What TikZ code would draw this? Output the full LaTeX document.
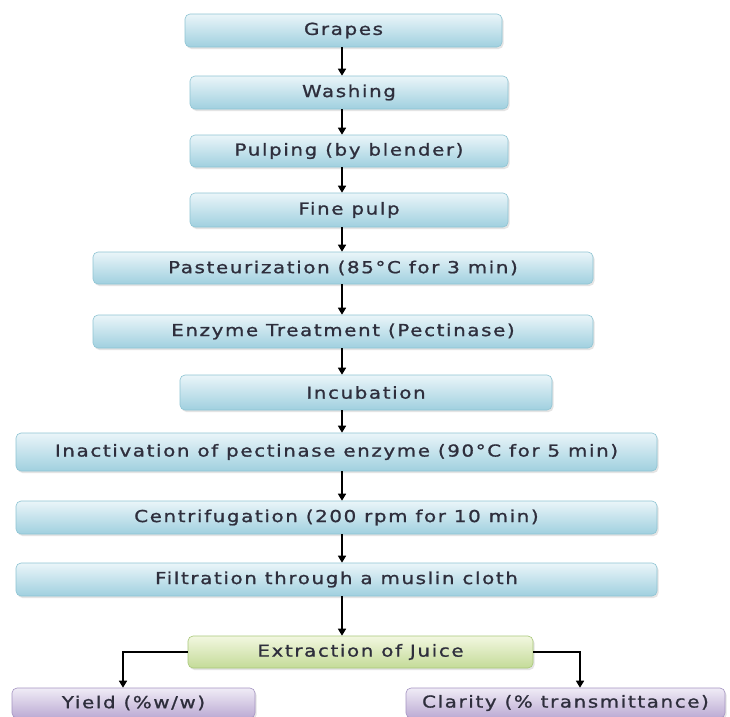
\documentclass[tikz,border=0pt]{standalone}
\usepackage{fontspec}
\setmainfont{DejaVu Sans}[LetterSpace=10, FakeBold=1.1, FakeStretch=1.2]
\usetikzlibrary{arrows.meta,shadows}
\definecolor{txt}{HTML}{2E2E3C}
\definecolor{btop}{HTML}{EAF5F9}
\definecolor{bbot}{HTML}{A0D0DF}
\definecolor{bdraw}{HTML}{8EC4D3}
\definecolor{gtop}{HTML}{F2F7E0}
\definecolor{gbot}{HTML}{C4DB98}
\definecolor{gdraw}{HTML}{A9C87A}
\definecolor{ptop}{HTML}{F0ECF6}
\definecolor{pbot}{HTML}{BBAAD3}
\definecolor{pdraw}{HTML}{A594C2}
\tikzset{
  boxbase/.style={rectangle, rounded corners=5pt, inner sep=0pt, line width=0.6pt,
    font=\fontsize{16.5}{18}\selectfont, text=txt,
    drop shadow={shadow xshift=1.5pt, shadow yshift=-2pt, fill=black!30, opacity=0.35}},
  bluebox/.style={boxbase, draw=bdraw, top color=btop, bottom color=bbot},
  greenbox/.style={boxbase, draw=gdraw, top color=gtop, bottom color=gbot},
  purplebox/.style={boxbase, draw=pdraw, top color=ptop, bottom color=pbot},
  flow/.style={-{Triangle[width=8pt,length=7pt]}, line width=1.6pt, black}
}
\begin{document}
\begin{tikzpicture}[x=1pt,y=-1pt]
\useasboundingbox (0,0) rectangle (730,716);
\clip (0,0) rectangle (730,716);
\fill[white] (0,0) rectangle (730,716);
\coordinate (axis) at (342,0);
\node[bluebox, minimum width=317pt, minimum height=33pt] (grapes) at (343.5,30.5) {Grapes};
\node[bluebox, minimum width=318pt, minimum height=33pt] (washing) at (349,92.5) {Washing};
\node[bluebox, minimum width=318pt, minimum height=32pt] (pulping) at (349,151) {Pulping (by blender)};
\node[bluebox, minimum width=318pt, minimum height=34pt] (fine) at (349,210) {Fine pulp};
\node[bluebox, minimum width=500pt, minimum height=32pt] (past) at (343,268) {Pasteurization (85°C for 3 min)};
\node[bluebox, minimum width=500pt, minimum height=33pt] (enz) at (343,331.5) {Enzyme Treatment (Pectinase)};
\node[bluebox, minimum width=372pt, minimum height=35pt] (inc) at (366,392.5) {Incubation};
\node[bluebox, minimum width=641pt, minimum height=38pt] (inact) at (336.5,452) {Inactivation of pectinase enzyme (90°C for 5 min)};
\node[bluebox, minimum width=641pt, minimum height=33pt] (cent) at (336.5,517.5) {Centrifugation (200 rpm for 10 min)};
\node[bluebox, minimum width=641pt, minimum height=33pt] (filt) at (336.5,579.5) {Filtration through a muslin cloth};
\node[greenbox, minimum width=345pt, minimum height=32pt] (ext) at (360.5,652) {Extraction of Juice};
\node[purplebox, minimum width=243pt, minimum height=30pt] (yield) at (133.5,703) {Yield (\%w/w)};
\node[purplebox, minimum width=319pt, minimum height=30pt] (clar) at (565.5,703) {Clarity (\% transmittance)};
\foreach \a/\b in {grapes/washing, washing/pulping, pulping/fine, fine/past, past/enz, enz/inc, inc/inact, inact/cent, cent/filt, filt/ext}
  \draw[flow] (\a.south -| axis) -- (\b.north -| axis);
\draw[flow] (ext.west) -| (yield.north -| 123,0);
\draw[flow] (ext.east) -| (clar.north -| 580,0);
\end{tikzpicture}
\end{document}
